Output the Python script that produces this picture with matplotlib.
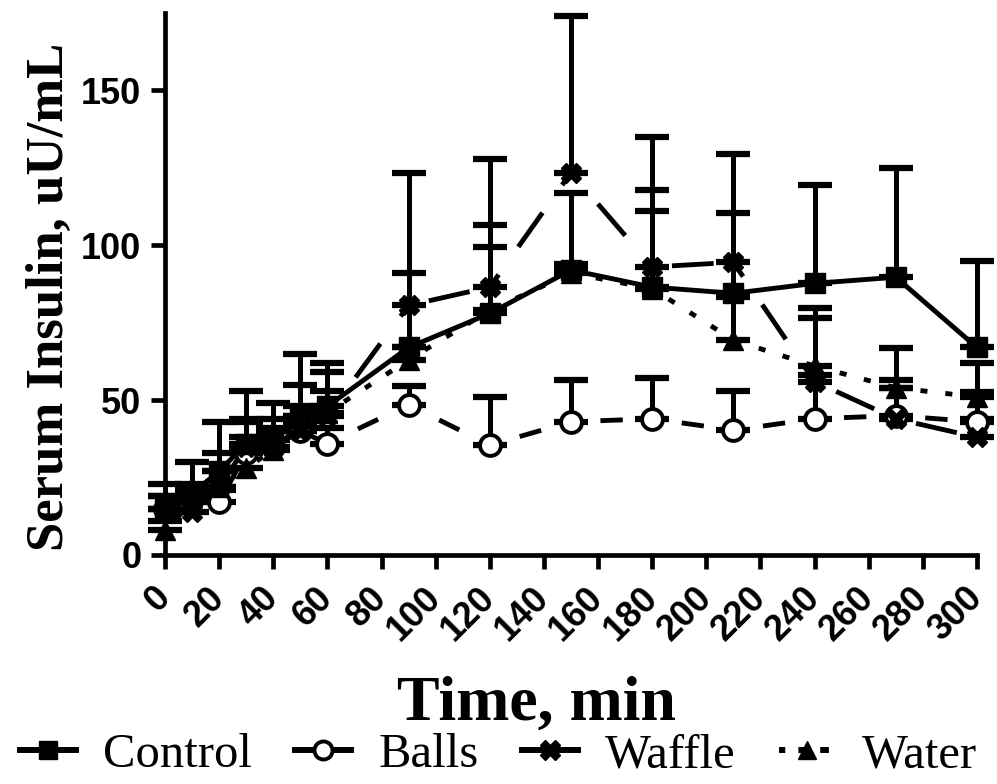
import numpy as np
import matplotlib.pyplot as plt
from matplotlib.lines import Line2D

# sampling times (min)
time = [0, 10, 20, 30, 40, 50, 60, 90, 120, 150, 180, 210, 240, 270, 300]

# mean serum insulin (uU/mL) and upper error bars
control = [15, 20, 27, 36, 37, 45, 48, 67, 78, 92, 86.5, 84.5, 87.7, 89.7, 67]
control_err = [8, 10, 16, 17, 12, 20, 14, 56.5, 50, 25, 48.5, 45, 31.7, 35.3, 28]

balls = [15, 18, 17, 33, 35, 40, 36, 48.5, 35.5, 43, 44, 40.3, 44, 45, 43]
balls_err = [4, 5, 4, 5, 5, 5, 5, 6, 15.5, 13.5, 13, 12.7, 14, 9, 9.5]

waffle = [15, 14, 22, 35, 35, 40, 45, 80.6, 86.5, 123.5, 93, 94.5, 56, 44, 38]
waffle_err = [4, 5, 11, 9, 6, 15, 8, 10.5, 20, 50.5, 25, 16, 20.5, 22.8, 6]

water = [8, 17, 22, 28, 34, 42, 46, 63, 79, 91, 86, 69.4, 61, 54, 51]
water_err = [3, 4, 5, 15, 10, 6, 13, 4, 20.4, 3, 25, 14, 18.7, 2.5, 11]

xticks = list(range(0, 301, 20))
yticks = [0, 50, 100, 150]

plt.rcParams['font.family'] = 'Liberation Sans'

fig = plt.figure(figsize=(9.97, 7.84), dpi=100)
ax = fig.add_axes([165 / 997, 1 - 555 / 784, (977 - 165) / 997, (555 - 13) / 784])
ax.set_xlim(0, 300)
ax.set_ylim(0, 175)

lw = 3.5


def dashed_segments(x, y, on, off):
    # Prism-like: every segment gets its own dash pattern, centred between markers
    pts = ax.transData.transform(np.column_stack([x, y]))
    on_pt, off_pt = on * lw, off * lw
    period = on_pt + off_pt
    for i in range(len(x) - 1):
        L = np.hypot(*(pts[i + 1] - pts[i])) * 72 / fig.dpi
        n = max(1, int((L - off_pt) // period))
        used = n * on_pt + (n - 1) * off_pt
        start = (L - used) / 2
        offset = (-start) % period
        ax.plot(x[i:i + 2], y[i:i + 2], color='black', lw=lw,
                ls=(offset / lw, (on, off)), dash_capstyle='butt',
                clip_on=False, zorder=3)


series = [
    ('Balls', balls, balls_err, 'o', 'white', (4.6, 5.5)),
    ('Waffle', waffle, waffle_err, 'X', 'black', (8.6, 7.0)),
    ('Water', water, water_err, '^', 'black', (1.45, 3.7)),
    ('Control', control, control_err, 's', 'black', None),
]

for name, vals, err, mk, fc, dashes in series:
    lo = np.zeros(len(err))
    ax.errorbar(time, vals, yerr=[lo, err], fmt='none', ecolor='black',
                elinewidth=3.6, capsize=12, capthick=4.5, clip_on=False, zorder=2)
    if dashes is None:
        ax.plot(time, vals, color='black', lw=lw, clip_on=False, zorder=3)
    else:
        dashed_segments(time, vals, *dashes)
    ax.plot(time, vals, ls='none', marker=mk, markersize=15,
            markerfacecolor=fc, markeredgecolor='black',
            markeredgewidth=2.8 if mk == 'o' else 1, clip_on=False, zorder=4)

ax.set_xticks(xticks)
ax.set_yticks(yticks)
for s in ['top', 'right']:
    ax.spines[s].set_visible(False)
for s in ['left', 'bottom']:
    ax.spines[s].set_linewidth(3.4)
ax.tick_params(axis='y', length=10, width=3.4, direction='out', pad=7)
ax.tick_params(axis='x', length=10, width=3.4, direction='out', pad=17)
ax.set_yticklabels([str(v) for v in yticks], fontsize=26, fontweight='bold')
ax.set_xticklabels([str(v) for v in xticks], fontsize=26, fontweight='bold',
                   rotation=45, ha='right', va='center', rotation_mode='anchor')

ax.set_ylabel('Serum Insulin, uU/mL', fontsize=38, fontweight='bold',
              family='Liberation Serif')
ax.yaxis.set_label_coords(-0.112, 0.476)
ax.set_xlabel('Time, min', fontsize=46, fontweight='bold',
              family='Liberation Serif')
ax.xaxis.set_label_coords(0.457, -0.222)

handles = [
    Line2D([], [], color='black', lw=lw + 0.8, marker='s', markersize=13),
    Line2D([], [], color='black', lw=lw + 0.8, marker='o', markersize=13,
           markerfacecolor='white', markeredgewidth=2.8),
    Line2D([], [], color='black', lw=lw + 0.8, marker='X', markersize=14),
    Line2D([], [], color='black', lw=lw + 0.8, marker='^', markersize=13,
           ls=(0.4, (1.45, 2.2))),
]
fig.legend(handles, ['Control', 'Balls', 'Waffle', 'Water'], loc='lower center',
           bbox_to_anchor=(0.5, -0.047), ncol=4, frameon=False,
           prop={'family': 'Liberation Serif', 'size': 35},
           handlelength=1.15, handletextpad=0.55, columnspacing=0.9)

fig.savefig('out.png', dpi=100)
